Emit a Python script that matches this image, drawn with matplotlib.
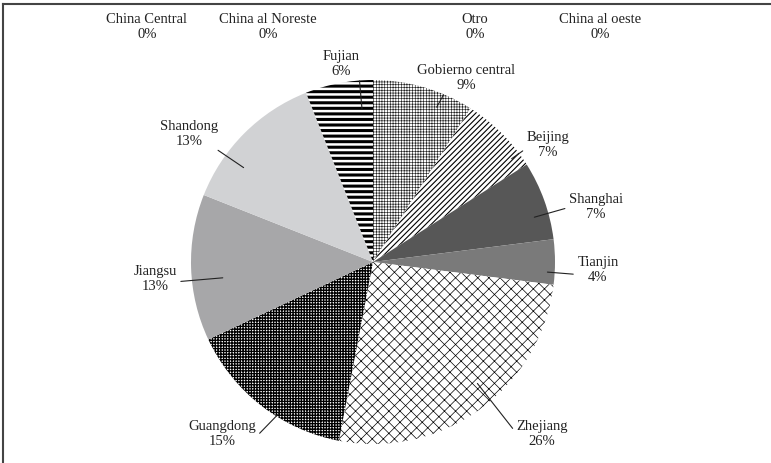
import numpy as np
import matplotlib
matplotlib.use("Agg")
import matplotlib.pyplot as plt
from matplotlib.lines import Line2D

# regions and share of total (%), clockwise from 12 o'clock
regions = ["Gobierno central", "Beijing", "Shanghai", "Tianjin", "Zhejiang",
           "Guangdong", "Jiangsu", "Shandong", "Fujian",
           "China al oeste", "Otro", "China al Noreste", "China Central"]
shares = [9, 7, 7, 4, 26, 15, 13, 13, 6, 0, 0, 0, 0]

# fills: (facecolor, hatch, hatch colour, hatch width)
fills = [
    ("white", "++++++", "#222222", 0.45),
    ("white", "//////", "black", 0.8),
    ("#575757", None, "#575757", 0.5),
    ("#7a7a7a", None, "#7a7a7a", 0.5),
    ("white", "xxx", "black", 0.5),
    ("white", "++++++", "black", 0.95),
    ("#a7a7a9", None, "#a7a7a9", 0.5),
    ("#d1d2d4", None, "#d1d2d4", 0.5),
    ("white", "---", "black", 2.2),
    ("white", None, "white", 0.5),
    ("white", None, "white", 0.5),
    ("white", None, "white", 0.5),
    ("white", None, "white", 0.5),
]

# label block centres in pixels (x, y from top)
label_pos = [(466, 78), (548, 145), (596, 207), (598, 270), (542, 434),
             (222, 434), (155, 279), (189, 134), (341, 64),
             (600, 27), (475, 27), (268, 27), (147, 27)]
# where the leader leaves the text box
rel = [(0.31, 0.1), (0.0, 0.35), (0.0, 0.45), (0.0, 0.3), (0.0, 0.5),
       (1.0, 0.35), (0.9, 0.35), (0.7, 0.3), (0.95, 0.6),
       None, None, None, None]
# where the leader ends inside the wedge: (fraction of angle span, fraction of radius)
ends = [(0.31, 0.92), (0.17, 0.95), (0.33, 0.92), (0.27, 0.96), (0.55, 0.88),
        (0.61, 0.98), (0.59, 0.83), (0.69, 0.88), (0.19, 0.84),
        None, None, None, None]

W, H = 771, 464
cx, cy, R = 373, 263, 182

fig = plt.figure(figsize=(W / 100, H / 100), dpi=100)
ax = fig.add_axes([0, 0, 1, 1])

wedges, _ = ax.pie(shares, center=(cx, H - cy), radius=R, startangle=90,
                   counterclock=False, normalize=True,
                   wedgeprops=dict(linewidth=0))
ax.set_xlim(0, W)
ax.set_ylim(0, H)
ax.set_aspect("equal")
ax.axis("off")

for w, (fc, hatch, hc, hlw) in zip(wedges, fills):
    w.set_facecolor(fc)
    w.set_edgecolor(hc)
    w.set_linewidth(0)
    if hatch:
        w.set_hatch(hatch)
        if hasattr(w, "set_hatch_linewidth"):
            w.set_hatch_linewidth(hlw)

font = dict(family=["Liberation Serif", "DejaVu Serif"], size=10.5, color="#222222")

for w, name, val, (lx, ly), rp, end in zip(wedges, regions, shares, label_pos, rel, ends):
    txt = f"{name}\n{val}%"
    if rp is None:
        ax.text(lx, H - ly, txt, ha="center", va="center", linespacing=1.15, **font)
        continue
    t, rf = end
    ang = np.deg2rad(w.theta1 + t * (w.theta2 - w.theta1))
    ex = cx + rf * R * np.cos(ang)
    ey = (H - cy) + rf * R * np.sin(ang)
    ax.annotate(txt, xy=(ex, ey), xytext=(lx, H - ly), ha="center", va="center",
                linespacing=1.15,
                arrowprops=dict(arrowstyle="-", color="#222222", lw=0.8,
                                shrinkA=1, shrinkB=0, relpos=rp),
                **font)

# outer frame: top and left edges only
fig.add_artist(Line2D([3 / W, 1], [1 - 5 / H, 1 - 5 / H], transform=fig.transFigure,
                      color="#444444", linewidth=1.5))
fig.add_artist(Line2D([3 / W, 3 / W], [0, 1 - 5 / H], transform=fig.transFigure,
                      color="#444444", linewidth=1.5))

fig.savefig("out.png", dpi=100)
